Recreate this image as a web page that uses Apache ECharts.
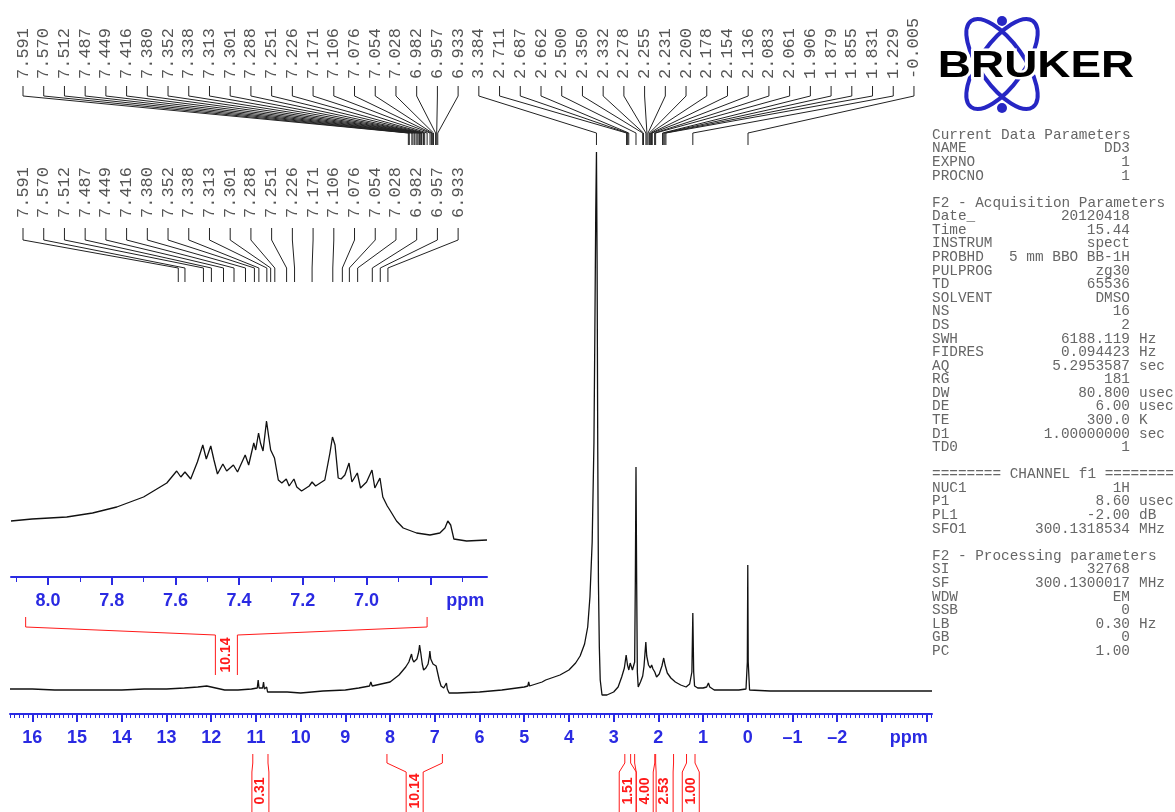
<!DOCTYPE html>
<html>
<head>
<meta charset="utf-8">
<script src="https://cdn.jsdelivr.net/npm/echarts@6/dist/echarts.min.js"></script>
<style>
html,body{margin:0;padding:0;background:#fff;}
#main{width:1175px;height:812px;}
</style>
</head>
<body>
<div id="main"></div>
<script>
// 1H spectrum, [ppm, intensity] (baseline ~0)
var mainSpectrum = [
  [16.5,3],[16.0,3],[15.5,2],[15.0,2],[14.5,2],[14.0,2],[13.5,3],[13.0,3],[12.6,4],[12.3,5],[12.1,6],[11.9,4],
  [11.7,2],[11.4,2],[11.1,3],[10.97,4],[10.95,12],[10.93,4],[10.85,4],[10.83,10],[10.81,3],[10.76,5],[10.74,0],
  [10.6,0],[10.3,0],[10.0,-1],[9.5,1],[9.0,2],[8.7,4],[8.46,6],[8.43,10],[8.40,6],[8.2,8],[8.0,10],[7.8,17],
  [7.65,25],[7.58,30],[7.55,34],[7.52,38],[7.50,33],[7.47,30],[7.45,28],[7.40,33],[7.36,40],[7.34,47],[7.31,38],
  [7.28,28],[7.25,22],[7.20,24],[7.15,28],[7.12,36],[7.11,41],[7.09,33],[7.06,31],[7.04,28],[7.01,30],[6.97,26],
  [6.93,18],[6.90,12],[6.86,6],[6.80,4],[6.76,5],[6.74,9],[6.72,3],[6.68,-1],[6.5,-1],[6.0,0],[5.5,2],[5.0,5],
  [4.92,6],[4.90,10],[4.88,6],[4.6,10],[4.52,12],[4.50,14],[4.48,12],[4.2,17],[4.0,22],[3.85,29],[3.75,36],
  [3.65,48],[3.58,65],[3.53,95],[3.48,150],[3.44,250],[3.42,360],[3.40,480],[3.384,540],[3.37,430],[3.355,240],
  [3.34,110],[3.32,45],[3.30,12],[3.26,-3],[3.15,-3],[3.0,0],[2.9,5],[2.82,15],[2.76,24],[2.72,37],[2.69,27],
  [2.66,22],[2.63,29],[2.58,22],[2.53,30],[2.515,110],[2.50,225],[2.485,110],[2.47,20],[2.45,5],[2.40,10],
  [2.35,16],[2.32,26],[2.30,38],[2.28,50],[2.26,36],[2.22,27],[2.18,24],[2.15,27],[2.12,23],[2.08,20],[2.04,15],
  [1.98,18],[1.92,26],[1.88,34],[1.85,27],[1.80,19],[1.72,14],[1.62,10],[1.50,7],[1.38,5],[1.30,8],[1.25,20],
  [1.229,79],[1.21,20],[1.19,6],[1.12,4],[1.0,4],[0.92,5],[0.88,9],[0.85,5],[0.75,2],[0.5,2],[0.2,2],[0.04,3],
  [0.01,30],[0.0,127],[-0.01,30],[-0.04,2],[-0.5,1],[-1.0,1],[-2.0,1],[-3.0,1],[-4.12,1]
];

// expanded aromatic region (inset), [ppm, intensity]
var insetSpectrum = [
  [8.116,56],[8.05,58],[7.941,60],[7.86,64],[7.784,70],[7.70,80],[7.627,94],[7.596,106],[7.583,100],[7.570,105],
  [7.552,98],[7.531,115],[7.514,132],[7.503,118],[7.489,131],[7.479,117],[7.468,103],[7.451,113],[7.439,106],
  [7.418,112],[7.405,105],[7.381,122],[7.370,112],[7.354,134],[7.348,127],[7.339,144],[7.333,134],[7.325,126],
  [7.314,156],[7.307,140],[7.301,127],[7.289,119],[7.277,97],[7.266,94],[7.252,98],[7.243,91],[7.228,98],
  [7.219,90],[7.204,86],[7.180,91],[7.171,95],[7.160,91],[7.131,97],[7.115,124],[7.107,140],[7.099,132],
  [7.089,99],[7.080,98],[7.068,102],[7.055,114],[7.046,95],[7.029,104],[7.019,89],[7.000,95],[6.983,107],
  [6.974,89],[6.958,99],[6.949,80],[6.935,71],[6.927,67],[6.906,56],[6.885,49],[6.843,44],[6.801,42],
  [6.770,44],[6.754,49],[6.745,56],[6.736,52],[6.726,38],[6.686,36],[6.622,37]
];

var peakList = [7.591,7.570,7.512,7.487,7.449,7.416,7.380,7.352,7.338,7.313,7.301,7.288,7.251,7.226,7.171,
  7.106,7.076,7.054,7.028,6.982,6.957,6.933,3.384,2.711,2.687,2.662,2.500,2.350,2.332,2.278,2.255,2.231,2.200,
  2.178,2.154,2.136,2.083,2.061,1.906,1.879,1.855,1.831,1.229,-0.005];
var aromaticPeaks = peakList.slice(0, 22);

// [from ppm, to ppm, integral]
var mainIntegrals = [[11.07,10.73,0.31],[8.07,6.83,10.14],[2.75,2.62,1.51],[2.53,2.08,4.00],[2.06,1.66,2.53],[1.37,1.18,1.00]];
var insetIntegrals = [[8.07,6.81,10.14]];

var mainMajorTicks = [16,15,14,13,12,11,10,9,8,7,6,5,4,3,2,1,0,-1,-2,-3,-4];
var mainTickLabels = [16,15,14,13,12,11,10,9,8,7,6,5,4,3,2,1,0,-1,-2];
var insetMajorTicks = [8.0,7.8,7.6,7.4,7.2,7.0,6.8];
var insetMinorTicks = [8.1,7.9,7.7,7.5,7.3,7.1,6.9,6.7];
var insetTickLabels = [8.0,7.8,7.6,7.4,7.2,7.0];

var paramRows = [
  ['Current Data Parameters'],['NAME','DD3'],['EXPNO','1'],['PROCNO','1'],null,
  ['F2 - Acquisition Parameters'],['Date_','20120418'],['Time','15.44'],['INSTRUM','spect'],
  ['PROBHD','5 mm BBO BB-1H'],['PULPROG','zg30'],['TD','65536'],['SOLVENT','DMSO'],['NS','16'],['DS','2'],
  ['SWH','6188.119','Hz'],['FIDRES','0.094423','Hz'],['AQ','5.2953587','sec'],['RG','181'],
  ['DW','80.800','usec'],['DE','6.00','usec'],['TE','300.0','K'],['D1','1.00000000','sec'],['TD0','1'],null,
  ['======== CHANNEL f1 ========'],['NUC1','1H'],['P1','8.60','usec'],['PL1','-2.00','dB'],
  ['SFO1','300.1318534','MHz'],null,
  ['F2 - Processing parameters'],['SI','32768'],['SF','300.1300017','MHz'],['WDW','EM'],['SSB','0'],
  ['LB','0.30','Hz'],['GB','0'],['PC','1.00']
];

var BLUE = '#2a2ae2';
var mainMin = -4.12, mainMax = 16.5;
var insetMin = 6.622, insetMax = 8.116;

var mainMinorTicks = [];
for (var k = -41; k <= 165; k++) { if (k % 10 !== 0) mainMinorTicks.push(k / 10); }

function peakRenderer(g) {
  return function (params, api) {
    var ppm = api.value(0);
    var px = api.coord([ppm, 0])[0];
    var lx = g.x0 + api.value(1) * g.dx;
    return {
      type: 'group',
      children: [
        {type: 'polyline', shape: {points: [[lx, g.stubTop], [lx, g.stubBot], [px, g.diagBot], [px, g.end]]},
          style: {stroke: '#222', fill: 'none', lineWidth: 1}},
        {type: 'text', x: lx, y: g.textY, rotation: Math.PI / 2,
          style: {text: ppm.toFixed(3), align: 'left', verticalAlign: 'middle',
            font: '17px "Liberation Mono"', fill: '#555'}}
      ]
    };
  };
}

function integralRenderer(g) {
  return function (params, api) {
    var x1 = api.coord([api.value(0), 0])[0];
    var x2 = api.coord([api.value(1), 0])[0];
    var cx = (x1 + x2) / 2, h = g.boxW / 2;
    var st = {stroke: '#ff1a1a', fill: 'none', lineWidth: 1};
    return {
      type: 'group',
      children: [
        {type: 'polyline', shape: {points: [[x1, g.stubTop], [x1, g.stubBot], [cx - h, g.boxTop], [cx - h, g.boxBot]]}, style: st},
        {type: 'polyline', shape: {points: [[x2, g.stubTop], [x2, g.stubBot], [cx + h, g.boxTop], [cx + h, g.boxBot]]}, style: st},
        {type: 'text', x: cx, y: g.textY, rotation: Math.PI / 2,
          style: {text: api.value(2).toFixed(2), align: 'center', verticalAlign: 'middle',
            font: 'bold 14px "Liberation Sans"', fill: '#ff1a1a'}}
      ]
    };
  };
}

var graphics = [
  {type: 'ellipse', x: 1002, y: 64, rotation: 0.62, shape: {cx: 0, cy: 0, rx: 22, ry: 53},
    style: {fill: 'none', stroke: '#2626c4', lineWidth: 4}},
  {type: 'ellipse', x: 1002, y: 64, rotation: -0.62, shape: {cx: 0, cy: 0, rx: 22, ry: 53},
    style: {fill: 'none', stroke: '#2626c4', lineWidth: 4}},
  {type: 'circle', shape: {cx: 1002, cy: 21, r: 5}, style: {fill: '#2626c4'}},
  {type: 'circle', shape: {cx: 1002, cy: 108, r: 5}, style: {fill: '#2626c4'}},
  {type: 'text', x: 1036, y: 67, scaleX: 1.24, z: 10,
    style: {text: 'BRUKER', font: 'bold 37px "Liberation Sans"', fill: '#000', align: 'center',
      verticalAlign: 'middle', stroke: '#fff', lineWidth: 5}}
];

var PFONT = '14.4px "Liberation Mono"';
var PCOL = '#666';
paramRows.forEach(function (r, i) {
  if (!r) return;
  var y = 135 + i * 13.58;
  graphics.push({type: 'text', x: 932, y: y, style: {text: r[0], font: PFONT, fill: PCOL, verticalAlign: 'middle'}});
  if (r.length > 1) {
    graphics.push({type: 'text', x: 1130, y: y, style: {text: r[1], font: PFONT, fill: PCOL, align: 'right', verticalAlign: 'middle'}});
  }
  if (r.length > 2) {
    graphics.push({type: 'text', x: 1139, y: y, style: {text: r[2], font: PFONT, fill: PCOL, verticalAlign: 'middle'}});
  }
});

var labelFont = {color: BLUE, fontFamily: 'Liberation Sans', fontWeight: 'bold', fontSize: 18};

var myChart = echarts.init(document.getElementById('main'));
var option = {
  animation: false,
  backgroundColor: '#fff',
  graphic: graphics,
  grid: [
    {left: 10, right: 243, top: 100, bottom: 98, outerBoundsMode: 'none'},
    {left: 11, right: 688, top: 290, bottom: 235, outerBoundsMode: 'none'}
  ],
  xAxis: [
    {type: 'value', gridIndex: 0, min: mainMin, max: mainMax, inverse: true, position: 'bottom',
      splitLine: {show: false},
      axisLine: {onZero: false, lineStyle: {color: BLUE, width: 2}},
      axisTick: {customValues: mainMajorTicks, length: 8, lineStyle: {color: BLUE, width: 2}},
      axisLabel: Object.assign({customValues: mainTickLabels.concat([-3.6]), margin: 15,
        formatter: function (v) { return v === -3.6 ? 'ppm' : String(v).replace('-', '\u2013'); }}, labelFont)},
    {type: 'value', gridIndex: 0, min: mainMin, max: mainMax, inverse: true, position: 'bottom',
      splitLine: {show: false}, axisLine: {show: false, onZero: false}, axisLabel: {show: false},
      axisTick: {customValues: mainMinorTicks, length: 4, lineStyle: {color: BLUE, width: 1}}},
    {type: 'value', gridIndex: 1, min: insetMin, max: insetMax, inverse: true, position: 'bottom',
      splitLine: {show: false},
      axisLine: {onZero: false, lineStyle: {color: BLUE, width: 2}},
      axisTick: {customValues: insetMajorTicks, length: 8, lineStyle: {color: BLUE, width: 2}},
      axisLabel: Object.assign({customValues: insetTickLabels.concat([6.69]), margin: 15,
        formatter: function (v) { return v === 6.69 ? 'ppm' : v.toFixed(1); }}, labelFont)},
    {type: 'value', gridIndex: 1, min: insetMin, max: insetMax, inverse: true, position: 'bottom',
      splitLine: {show: false}, axisLine: {show: false, onZero: false}, axisLabel: {show: false},
      axisTick: {customValues: insetMinorTicks, length: 5, lineStyle: {color: BLUE, width: 1}}}
  ],
  yAxis: [
    {type: 'value', gridIndex: 0, min: -22, max: 592, show: false},
    {type: 'value', gridIndex: 1, min: 0, max: 287, show: false}
  ],
  series: [
    {type: 'line', name: 'spectrum', xAxisIndex: 0, yAxisIndex: 0, data: mainSpectrum,
      showSymbol: false, lineStyle: {color: '#111', width: 1.3}, silent: true},
    {type: 'line', name: 'expansion', xAxisIndex: 2, yAxisIndex: 1, data: insetSpectrum,
      showSymbol: false, lineStyle: {color: '#111', width: 1.3}, silent: true},
    {type: 'custom', name: 'peaks', xAxisIndex: 0, yAxisIndex: 0, clip: false, silent: true,
      data: peakList.map(function (p, i) { return [p, i]; }), encode: {x: 0, y: 1},
      renderItem: peakRenderer({x0: 23, dx: 20.72, textY: 79, stubTop: 86, stubBot: 96, diagBot: 133, end: 145})},
    {type: 'custom', name: 'peaksInset', xAxisIndex: 2, yAxisIndex: 1, clip: false, silent: true,
      data: aromaticPeaks.map(function (p, i) { return [p, i]; }), encode: {x: 0, y: 1},
      renderItem: peakRenderer({x0: 23, dx: 20.72, textY: 218, stubTop: 228, stubBot: 240, diagBot: 268, end: 282})},
    {type: 'custom', name: 'integrals', xAxisIndex: 0, yAxisIndex: 0, clip: false, silent: true,
      data: mainIntegrals, encode: {x: [0, 1], y: 2},
      renderItem: integralRenderer({stubTop: 754, stubBot: 763, boxTop: 772, boxBot: 815, boxW: 17, textY: 791})},
    {type: 'custom', name: 'integralsInset', xAxisIndex: 2, yAxisIndex: 1, clip: false, silent: true,
      data: insetIntegrals, encode: {x: [0, 1], y: 2},
      renderItem: integralRenderer({stubTop: 617, stubBot: 627, boxTop: 635, boxBot: 675, boxW: 22, textY: 655})}
  ]
};
myChart.setOption(option);
</script>
</body>
</html>
